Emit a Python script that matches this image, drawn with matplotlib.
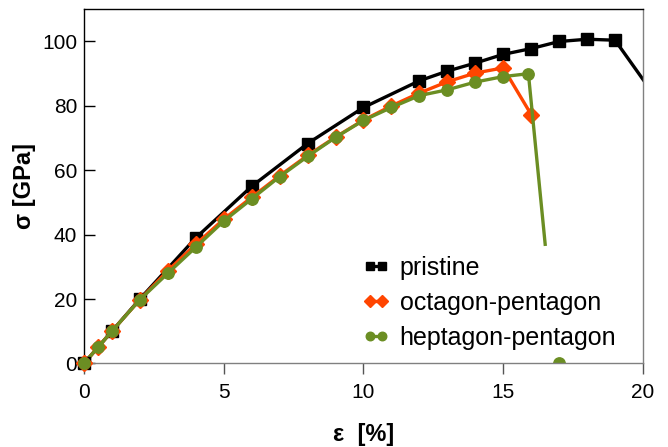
import numpy as np
import matplotlib
matplotlib.use('Agg')
import matplotlib.pyplot as plt

plt.rcParams['font.family'] = ['Liberation Sans', 'DejaVu Sans']

# strain [%] and stress [GPa]
pristine_x = [0, 1, 2, 4, 6, 8, 10, 12, 13, 14, 15, 16, 17, 18, 19, 21]
pristine_y = [0, 10, 20, 39, 55, 68.3, 79.5, 87.8, 90.8, 93.3, 96, 97.8, 100, 100.7, 100.4, 76]

octagon_x = [0, 0.5, 1, 2, 3, 4, 5, 6, 7, 8, 9, 10, 11, 12, 13, 14, 15, 16]
octagon_y = [0, 5, 10, 19.8, 28.8, 37, 44.8, 51.6, 58.3, 64.6, 70.3, 75.6, 80, 84, 87.5, 90.2, 91.8, 77.3]

heptagon_x = [0, 0.5, 1, 2, 3, 4, 5, 6, 7, 8, 9, 10, 11, 12, 13, 14, 15, 15.9, 16.5, np.nan, 17]
heptagon_y = [0, 5, 10, 19.8, 28, 36.1, 44.2, 51.1, 58, 64.3, 70.2, 75.5, 79.5, 83.2, 85, 87.4, 89.1, 90, 37, np.nan, 0]

labels = ['pristine', 'octagon-pentagon', 'heptagon-pentagon']
colors = ['black', '#ff4500', '#6b8e23']
markers = ['s', 'D', 'o']
sizes = [8, 7.7, 8.2]
xticks = [0, 5, 10, 15, 20]
yticks = [0, 20, 40, 60, 80, 100]

fig = plt.figure(figsize=(6.68, 4.47), dpi=100)
ax = fig.add_axes([0.1257, 0.187, 0.8369, 0.7922])

series = [(pristine_x, pristine_y), (octagon_x, octagon_y), (heptagon_x, heptagon_y)]
for i, (xs, ys) in enumerate(series):
    marks = [k for k in range(len(xs)) if not (i == 2 and k == 18)]
    ax.plot(xs, ys, color=colors[i], lw=2.4, marker=markers[i], ms=sizes[i],
            markevery=marks, label=labels[i])
    # origin point is drawn in full over the axes edge
    ax.plot(xs[:1], ys[:1], color=colors[i], marker=markers[i], ms=sizes[i],
            ls='none', clip_on=False, zorder=3 + i)

ax.set_xlim(0, 20)
ax.set_ylim(0, 110)
ax.set_xticks(xticks)
ax.set_yticks(yticks)
ax.tick_params(axis='y', direction='in', length=8, width=1, labelsize=15, pad=5)
ax.tick_params(axis='x', direction='out', length=8, width=1, labelsize=15, pad=6, color='#555555')

for side in ['left', 'top']:
    ax.spines[side].set_color('black')
for side in ['right', 'bottom']:
    ax.spines[side].set_color('#808080')
for s in ax.spines.values():
    s.set_linewidth(1)

ax.set_xlabel('\u03b5  [%]', fontsize=17, fontweight='bold', labelpad=15)
ax.set_ylabel('\u03c3 [GPa]', fontsize=17, fontweight='bold', labelpad=4)

ax.legend(loc='center left', bbox_to_anchor=(0.4575, 0.171), frameon=False, fontsize=18,
          numpoints=2, handlelength=1.1, handletextpad=0.4, labelspacing=0.45, markerscale=0.75)

fig.savefig('out.png', dpi=100)
